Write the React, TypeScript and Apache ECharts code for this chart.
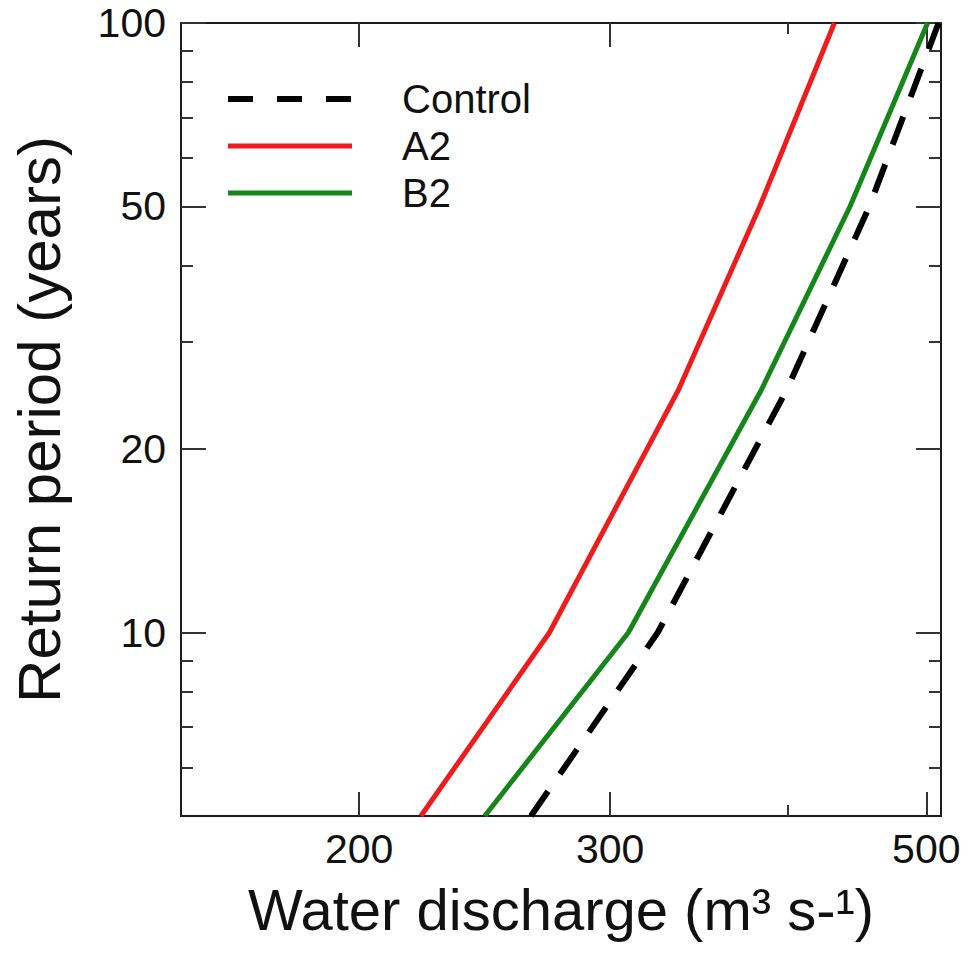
import React, { useEffect, useRef } from "react";
import * as echarts from "echarts";

// Return period (years) at which each discharge is read
const returnPeriods = [5, 10, 25, 50, 100];
// Water discharge (m³ s-¹) for each scenario
const controlDischarge = [264, 324, 399, 456, 510];
const a2Discharge = [221, 272, 335, 382, 431];
const b2Discharge = [245, 309, 383, 442, 501];

const seriesNames = ["Control", "A2", "B2"];

// Axis ticks
const xMajorTicks = [200, 300, 500];
const xMinorTicks = [400];
const yMajorTicks = [10, 20, 50, 100];
const yMinorTicks = [6, 7, 8, 9, 30, 40, 60, 70, 80, 90];

const X_MIN = 150;
const X_MAX = 512;
const Y_MIN = 5;
const Y_MAX = 100;

const FONT = "'Liberation Sans', Arial, Helvetica, sans-serif";
const AXIS_COLOR = "#1c1c1c";
const TICK_COLOR = "#333333";
const RED = "#ee1c1c";
const GREEN = "#15861a";

function pairs(xs: number[], ys: number[]) {
  return xs.map((x, i) => [x, ys[i]]);
}

function xAxisDef(position: string, ticks: number[], len: number, showLabel: boolean, showLine: boolean, name?: string) {
  return {
    type: "log",
    logBase: 10,
    min: X_MIN,
    max: X_MAX,
    position,
    name: name || "",
    nameLocation: "middle",
    nameGap: 64,
    nameTextStyle: { fontFamily: FONT, fontSize: 58, color: "#111" },
    axisLine: { show: showLine, onZero: false, lineStyle: { color: AXIS_COLOR, width: 2 } },
    axisTick: { show: true, inside: true, length: len, customValues: ticks, lineStyle: { color: TICK_COLOR, width: 2 } },
    axisLabel: showLabel
      ? { show: true, customValues: ticks, margin: 12, fontFamily: FONT, fontSize: 41, color: "#111" }
      : { show: false },
    splitLine: { show: false },
    minorTick: { show: false },
  };
}

function yAxisDef(position: string, ticks: number[], len: number, showLabel: boolean, showLine: boolean, name?: string) {
  return {
    type: "log",
    logBase: 10,
    min: Y_MIN,
    max: Y_MAX,
    position,
    name: name || "",
    nameLocation: "middle",
    nameGap: 112,
    nameTextStyle: { fontFamily: FONT, fontSize: 60, color: "#111" },
    axisLine: { show: showLine, onZero: false, lineStyle: { color: AXIS_COLOR, width: 2 } },
    axisTick: { show: true, inside: true, length: len, customValues: ticks, lineStyle: { color: TICK_COLOR, width: 2 } },
    axisLabel: showLabel
      ? { show: true, customValues: ticks, margin: 15, fontFamily: FONT, fontSize: 41, color: "#111" }
      : { show: false },
    splitLine: { show: false },
    minorTick: { show: false },
  };
}

export default function App() {
  const ref = useRef<HTMLDivElement>(null);

  useEffect(() => {
    if (!ref.current) return;
    const chart = echarts.init(ref.current, undefined, { renderer: "svg" });

    const legendX0 = 228;
    const legendX1 = 352;
    const legendTextX = 402;
    const legendRows = [99, 146, 193];

    const option = {
      animation: false,
      backgroundColor: "#ffffff",
      grid: { left: 181, right: 28, top: 23, bottom: 140, containLabel: false },
      xAxis: [
        xAxisDef("bottom", xMajorTicks, 24, true, true, "Water discharge (m³ s-¹)"),
        xAxisDef("top", xMajorTicks, 24, false, true),
        xAxisDef("bottom", xMinorTicks, 11, false, false),
        xAxisDef("top", xMinorTicks, 11, false, false),
      ],
      yAxis: [
        yAxisDef("left", yMajorTicks, 25, true, true, "Return period (years)"),
        yAxisDef("right", yMajorTicks, 25, false, true),
        yAxisDef("left", yMinorTicks, 12, false, false),
        yAxisDef("right", yMinorTicks, 12, false, false),
      ],
      series: [
        {
          name: seriesNames[0],
          type: "line",
          xAxisIndex: 0,
          yAxisIndex: 0,
          data: pairs(controlDischarge, returnPeriods),
          symbol: "none",
          z: 4,
          lineStyle: { color: "#000000", width: 6, type: [30, 21], cap: "butt" },
        },
        {
          name: seriesNames[1],
          type: "line",
          xAxisIndex: 0,
          yAxisIndex: 0,
          data: pairs(a2Discharge, returnPeriods),
          symbol: "none",
          z: 3,
          lineStyle: { color: RED, width: 5 },
        },
        {
          name: seriesNames[2],
          type: "line",
          xAxisIndex: 0,
          yAxisIndex: 0,
          data: pairs(b2Discharge, returnPeriods),
          symbol: "none",
          z: 3,
          lineStyle: { color: GREEN, width: 5 },
        },
      ],
      graphic: [
        {
          type: "line",
          shape: { x1: legendX0, y1: legendRows[0], x2: legendX1, y2: legendRows[0] },
          style: { stroke: "#000000", lineWidth: 6, lineDash: [25, 24] },
        },
        {
          type: "line",
          shape: { x1: legendX0, y1: legendRows[1], x2: legendX1, y2: legendRows[1] },
          style: { stroke: RED, lineWidth: 5 },
        },
        {
          type: "line",
          shape: { x1: legendX0, y1: legendRows[2], x2: legendX1, y2: legendRows[2] },
          style: { stroke: GREEN, lineWidth: 5 },
        },
        ...seriesNames.map((n, i) => ({
          type: "text",
          x: legendTextX,
          y: legendRows[i],
          style: {
            text: n,
            fontFamily: FONT,
            fontSize: 40,
            fill: "#111",
            verticalAlign: "middle",
            align: "left",
          },
        })),
      ],
    };

    chart.setOption(option as any);
    return () => chart.dispose();
  }, []);

  return (
    <div
      ref={ref}
      style={{ position: "absolute", left: 0, top: 0, width: 969, height: 956, background: "#fff" }}
    />
  );
}
